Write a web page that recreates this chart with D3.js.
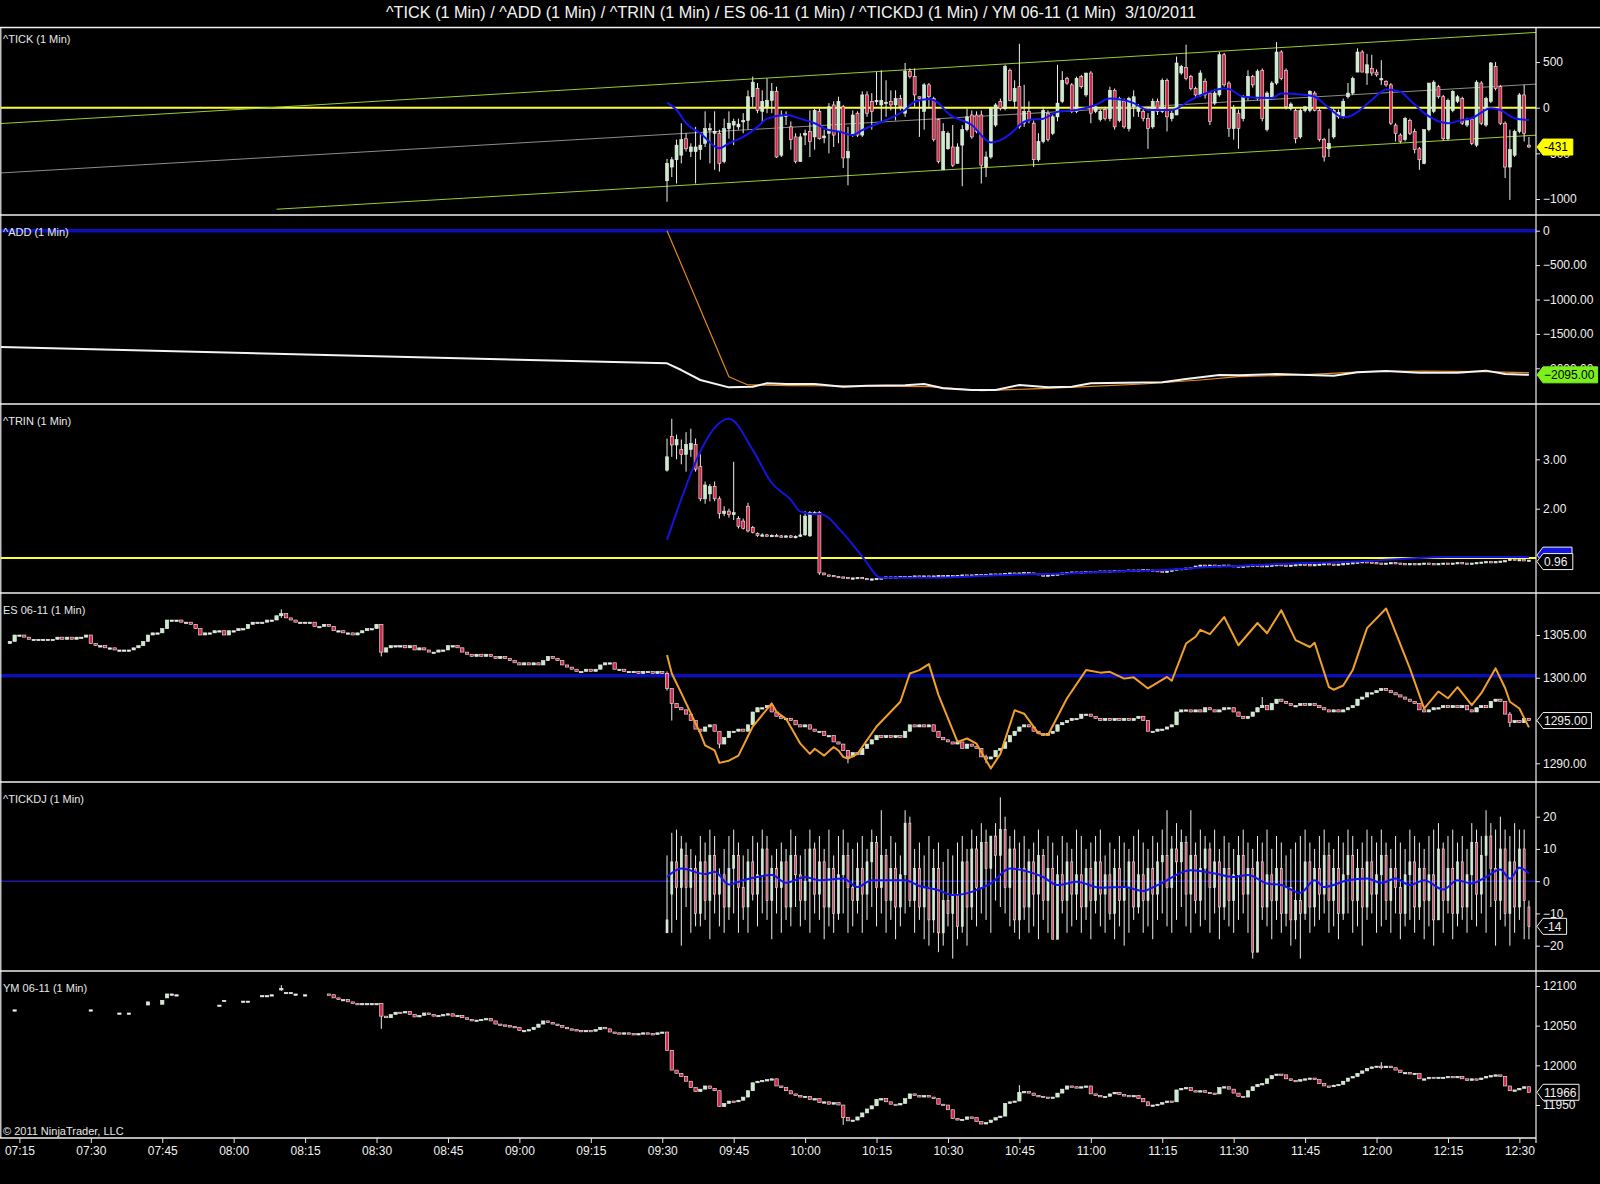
<!DOCTYPE html>
<html>
<head>
<meta charset="utf-8">
<script src="https://cdn.jsdelivr.net/npm/d3@7"></script>
<style>
  body { margin: 0; background: #000; }
  svg { display: block; font-family: "Liberation Sans Narrow", "Arial Narrow", "Liberation Sans", Arial, sans-serif; }
</style>
</head>
<body>
<svg id="chart"></svg>
<script>
// ---- data ----
const chartTitle = "^TICK (1 Min) / ^ADD (1 Min) / ^TRIN (1 Min) / ES 06-11 (1 Min) / ^TICKDJ (1 Min) / YM 06-11 (1 Min)  3/10/2011";
const panelNames = ["^TICK (1 Min)", "^ADD (1 Min)", "^TRIN (1 Min)", "ES 06-11 (1 Min)", "^TICKDJ (1 Min)", "YM 06-11 (1 Min)"];
const timeTicks = ["07:15","07:30","07:45","08:00","08:15","08:30","08:45","09:00","09:15","09:30","09:45","10:00","10:15","10:30","10:45","11:00","11:15","11:30","11:45","12:00","12:15","12:30"];

// right axis tick values
const tickTicks = [500, 0, -500, -1000];
const addTicks = [0, -500, -1000, -1500, -2000];
const trinTicks = [3, 2];
const esTicks = [1305, 1300, 1295, 1290];
const tickdjTicks = [20, 10, 0, -10, -20];
const ymTicks = [12100, 12050, 12000, 11950];

// ^TICK 1-min bars from 09:31 [open, high, low, close]
const tickStart = "09:31";
const tickBars = [
  [-800,-560,-1030,-610],[-650,-540,-760,-570],[-570,-350,-830,-410],[-520,-170,-610,-350],[-340,-280,-480,-450],
  [-480,-390,-540,-430],[-480,-210,-830,-430],[-460,-280,-570,-410],[-390,-40,-430,-230],[-240,-170,-610,-230],
  [-280,-40,-680,-260],[-280,-240,-700,-610],[-590,-120,-610,-230],[-230,-40,-340,-170],[-190,-120,-410,-150],
  [-210,-120,-240,-180],[-150,-60,-280,-140],[-140,190,-240,120],[120,340,10,280],[210,270,-60,-30],
  [-40,190,-170,70],[10,320,-60,80],[80,270,-60,180],[180,230,-550,-540],[-520,-30,-540,-80],
  [-90,-40,-190,-80],[-210,-150,-460,-350],[-320,-280,-610,-590],[-590,-280,-590,-320],[-300,-240,-410,-280],
  [-260,-30,-540,-370],[-320,-10,-460,-30],[-40,-10,-350,-340],[-330,-240,-390,-310],[-280,50,-500,10],
  [30,70,-430,-300],[-260,120,-390,70],[10,30,-660,-550],[-550,-210,-850,-480],[-300,-30,-320,-80],
  [-60,-40,-320,-300],[-300,180,-320,140],[140,180,-100,-60],[70,160,-240,-40],[70,390,30,80],
  [30,410,-150,80],[50,300,-100,60],[70,190,-30,30],[30,190,-140,100],[100,140,-30,10],
  [-60,490,-100,400],[400,430,320,340],[340,430,10,140],[120,120,-320,100],[-40,270,-240,250],
  [250,270,-10,120],[100,120,-370,-350],[-130,-120,-610,-590],[-680,-170,-680,-260],[-450,-260,-460,-280],
  [-430,-190,-650,-630],[-610,-390,-610,-430],[-410,-190,-860,-240],[-240,-10,-260,-100],[-80,-30,-340,-320],
  [-80,-40,-280,-260],[-80,-30,-830,-630],[-650,-480,-760,-540],[-540,10,-560,-10],[-190,50,-210,30],
  [70,100,-30,-10],[-10,470,-30,450],[410,430,70,80],[70,300,-10,210],[230,700,-230,-210],
  [-170,250,-210,-40],[-40,70,-170,-140],[-170,-140,-650,-570],[-570,-280,-590,-370],[-370,10,-390,-30],
  [-60,-30,-370,-350],[-280,-80,-300,-100],[-100,470,-150,50],[70,400,50,300],[320,340,250,270],
  [250,270,-60,-40],[-40,340,-60,320],[340,360,210,230],[140,380,120,380],[380,400,-170,-60],
  [-40,30,-60,10],[-130,-20,-150,-40],[-20,10,-140,-120],[-120,230,-150,190],[190,210,-240,-210],
  [-140,120,-160,100],[70,100,-230,-210],[-230,120,-260,100],[10,190,-100,120],[-40,40,-100,10],
  [-40,0,-150,-120],[-120,-60,-450,-230],[-210,100,-230,70],[70,100,-80,-40],[-40,320,-60,300],
  [300,320,-260,-100],[-120,-30,-150,-60],[-80,560,-80,490],[380,470,360,450],[440,690,300,320],
  [340,360,190,210],[210,230,120,140],[140,410,120,380],[290,320,100,140],[160,180,-190,-150],
  [50,200,30,160],[140,610,120,580],[580,600,230,250],[270,290,-320,-230],[-230,30,-350,-10],
  [-60,-20,-450,-230],[-120,140,-150,120],[120,410,80,340],[340,360,220,250],[100,420,80,400],
  [410,430,-150,-120],[-240,180,-260,160],[120,290,100,270],[270,720,250,610],[610,630,300,320],
  [410,430,-20,10],[-10,60,-30,40],[-30,-10,-390,-340],[-320,-10,-340,-30],[-30,20,-50,10],
  [-30,190,-50,180],[160,180,-40,-30],[-30,-10,-370,-350],[-350,-330,-590,-540],[-450,-230,-540,-390],
  [-320,-10,-340,-30],[-100,-20,-120,-50],[-100,100,-120,70],[120,270,100,160],[160,340,140,320],
  [390,650,390,610],[610,630,390,390],[380,590,250,470],[430,580,350,380],[390,420,340,360],
  [310,520,250,320],[290,300,230,250],[250,270,-190,-170],[-190,-170,-370,-280],[-300,-280,-390,-370],
  [-350,-100,-370,-120],[-140,-120,-300,-280],[-260,-230,-500,-460],[-450,-430,-680,-570],[-610,-240,-620,-240],
  [-240,270,-260,270],[-40,300,-60,280],[230,250,100,120],[120,140,-360,-340],[-340,100,-360,80],
  [-30,190,-50,180],[70,140,50,120],[100,120,-190,-170],[-190,-110,-210,-130],[-130,-110,-410,-390],
  [-410,300,-430,280],[270,290,-190,-170],[-190,120,-210,100],[70,500,50,490],[450,500,190,210],
  [230,250,-190,-170],[-170,-150,-770,-650],[-650,-240,-1010,-460],[-520,-240,-540,-260],[-260,160,-280,140],
  [140,250,-370,-280],[-410,-320,-440,-430]
];
// average of ^TICK (blue)
const tickAvg = [
  ["09:31",55],["09:33",-25],["09:35",-170],["09:38",-280],["09:42",-445],["09:44",-390],["09:47",-320],["09:50",-210],
  ["09:52",-120],["09:56",-80],["09:59",-120],["10:02",-170],["10:05",-245],["10:07",-260],["10:10",-300],["10:12",-245],
  ["10:17",-135],["10:21",-25],["10:23",65],["10:26",95],["10:28",50],["10:30",-60],["10:35",-190],["10:39",-380],
  ["10:41",-355],["10:44",-245],["10:45",-190],["10:47",-135],["10:50",-120],["10:53",-45],["10:57",-25],["11:01",30],
  ["11:04",100],["11:09",50],["11:12",-25],["11:17",-25],["11:21",85],["11:24",155],["11:28",210],["11:29",205],
  ["11:32",120],["11:38",105],["11:40",155],["11:45",140],["11:47",120],["11:50",-5],["11:53",-105],["11:55",-80],
  ["11:59",85],["12:02",200],["12:05",175],["12:07",85],["12:10",-60],["12:15",-170],["12:18",-135],["12:20",-115],
  ["12:24",-5],["12:26",-25],["12:29",-115],["12:32",-135]
];
// regression channel on ^TICK [time, value]
const tickChanUpper = [["07:11",-174],["12:34",826]];
const tickChanMid = [["07:11",-715],["12:34",260]];
const tickChanLower = [["08:09",-1112],["12:34",-299]];
const tickZero = 0;

// ^ADD line (white) and its average (orange)
const addLine = [
  ["07:11",-1690],["09:31",-1928],["09:34",-2025],["09:38",-2170],["09:44",-2277],["09:49",-2267],["09:52",-2218],
  ["09:56",-2228],["10:02",-2228],["10:08",-2267],["10:13",-2252],["10:21",-2247],["10:25",-2228],["10:29",-2291],
  ["10:35",-2315],["10:40",-2315],["10:45",-2242],["10:51",-2277],["10:56",-2267],["11:00",-2218],["11:07",-2209],
  ["11:15",-2204],["11:20",-2156],["11:27",-2097],["11:31",-2102],["11:39",-2083],["11:44",-2093],["11:51",-2107],
  ["11:56",-2059],["12:02",-2039],["12:09",-2064],["12:17",-2064],["12:23",-2034],["12:27",-2083],["12:32",-2095]
];
const addAvg = [
  ["09:31",0],["09:44",-2122],["09:48",-2242],["09:57",-2252],["10:10",-2257],["10:26",-2267],["10:37",-2325],
  ["10:48",-2300],["10:59",-2267],["11:11",-2228],["11:23",-2170],["11:31",-2122],["11:44",-2097],["11:58",-2049],
  ["12:10",-2039],["12:22",-2049],["12:32",-2064]
];
const addZero = 0;

// ^TRIN bars: first 33 minutes as [o,h,l,c], then closes only
const trinStart = "09:31";
const trinBars = [
  [2.78,3.42,2.75,3.05],[3.46,3.82,3.05,3.29],[3.29,3.50,3.00,3.40],[3.20,3.40,2.90,3.10],[3.10,3.55,2.75,3.30],
  [3.20,3.62,3.05,3.32],[3.30,3.42,2.75,2.80],[2.85,3.10,2.15,2.20],[2.20,2.55,2.10,2.48],[2.30,2.50,2.15,2.45],
  [2.45,2.55,2.15,2.20],[2.20,2.25,1.80,1.90],[1.90,2.05,1.85,1.95],[1.95,2.00,1.82,1.88],[1.88,2.95,1.77,1.92],
  [1.80,1.85,1.60,1.64],[1.75,1.80,1.58,1.60],[2.05,2.12,1.52,1.55],[1.62,1.65,1.50,1.52],[1.50,1.52,1.43,1.46],
  [1.46,1.50,1.44,1.47],[1.47,1.49,1.44,1.45],[1.45,1.48,1.43,1.46],[1.46,1.49,1.44,1.45],[1.45,1.47,1.42,1.44],
  [1.44,1.46,1.42,1.45],[1.45,1.47,1.41,1.43],[1.43,1.46,1.40,1.44],[1.44,1.88,1.43,1.47],[1.47,1.95,1.45,1.85],
  [1.45,1.95,1.43,1.92],[1.92,1.95,1.88,1.90],[1.92,1.95,0.66,0.70]
];
const trinLateStart = "10:04";
const trinCloses = [
  0.66,0.65,0.63,0.62,0.61,0.60,0.60,0.61,0.59,0.58, 0.58,0.59,0.60,0.62,0.61,0.62,0.63,0.62,0.63,0.64,
  0.63,0.64,0.63,0.64,0.65,0.64,0.65,0.64,0.65,0.66, 0.65,0.66,0.67,0.66,0.67,0.68,0.67,0.68,0.69,0.70,
  0.69,0.70,0.71,0.70,0.69,0.66,0.65,0.66,0.67,0.68, 0.70,0.71,0.72,0.71,0.72,0.73,0.72,0.73,0.74,0.73,
  0.74,0.75,0.74,0.75,0.76,0.75,0.76,0.77,0.76,0.75, 0.74,0.73,0.74,0.76,0.78,0.79,0.80,0.81,0.84,0.86,
  0.85,0.86,0.84,0.85,0.86,0.85,0.84,0.83,0.84,0.85, 0.86,0.85,0.84,0.85,0.86,0.87,0.86,0.85,0.86,0.87,
  0.88,0.87,0.86,0.87,0.88,0.89,0.88,0.87,0.88,0.89, 0.90,0.91,0.92,0.93,0.92,0.91,0.90,0.89,0.90,0.91,
  0.90,0.89,0.88,0.89,0.88,0.89,0.90,0.89,0.88,0.89, 0.90,0.89,0.90,0.91,0.90,0.89,0.90,0.91,0.92,0.93,
  0.92,0.93,0.94,0.95,0.98,0.96,0.97,0.95,0.96
];
const trinAvg = [
  ["09:31",1.37],["09:44",3.82],["09:49",3.19],["09:53",2.52],["09:57",2.18],["09:59",1.94],["10:02",1.89],["10:03",1.90],
  ["10:08",1.50],["10:12",1.03],["10:16",0.60],["10:25",0.60],["10:35",0.63],["10:45",0.67],["10:55",0.69],["11:05",0.73],
  ["11:15",0.76],["11:25",0.82],["11:35",0.86],["11:45",0.90],["11:55",0.93],["12:05",0.98],["12:15",1.02],["12:25",1.02],["12:32",1.02]
];
const trinLevel = 1.0;

// ES 06-11 closes, one per minute from 07:13 (open = previous close)
const esStart = "07:13";
const esFirstOpen = 1304.0;
const esCloses = [
  1304.25,1305.0,1305.0,1304.75,1304.5,1304.5,1304.5,1304.5,1304.5,1304.5,
  1304.75,1304.5,1304.75,1304.5,1304.75,1304.75,1305.0,1304.0,1303.75,1303.75,
  1303.5,1303.5,1303.25,1303.25,1303.25,1303.25,1303.5,1303.75,1304.25,1305.0,
  1305.25,1305.25,1305.75,1306.75,1306.75,1306.75,1306.5,1306.5,1306.25,1305.75,
  1305.0,1305.25,1305.25,1305.5,1305.5,1305.0,1305.5,1305.5,1305.75,1305.75,
  1306.25,1306.5,1306.5,1306.5,1306.75,1306.75,1307.25,1307.5,1307.0,1306.75,
  1306.5,1306.5,1306.5,1306.5,1306.0,1306.0,1306.25,1306.0,1305.5,1305.5,
  1305.25,1305.25,1305.0,1305.25,1305.5,1305.75,1305.75,1306.25,1303.0,1303.5,
  1303.75,1303.75,1303.75,1303.5,1303.75,1303.25,1303.5,1303.25,1303.0,1303.0,
  1303.25,1303.25,1303.75,1303.75,1303.5,1303.0,1302.75,1302.5,1302.75,1302.5,
  1302.75,1302.5,1302.25,1302.5,1302.25,1302.0,1301.75,1301.5,1301.75,1301.5,
  1301.75,1301.5,1302.0,1302.5,1302.25,1302.0,1301.5,1301.25,1301.0,1300.75,
  1300.75,1301.0,1300.75,1301.0,1301.5,1301.75,1301.75,1301.0,1301.0,1300.75,
  1300.75,1300.75,1300.5,1300.75,1300.75,1300.5,1300.75,1300.5,
  1298.75,1297.0,1296.5,1296.25,1295.75,1295.0,1294.0,1293.75,1294.25,1294.5,
  1293.75,1292.25,1293.0,1293.75,1293.75,1294.0,1293.75,1294.5,1296.0,1296.5,
  1296.5,1296.75,1296.0,1295.5,1295.25,1295.25,1295.0,1294.5,1294.25,1294.5,
  1294.0,1293.75,1293.75,1293.25,1293.25,1292.5,1292.25,1291.5,1290.75,1291.25,
  1291.0,1291.75,1292.25,1292.75,1293.25,1293.0,1293.25,1293.0,1293.25,1293.0,
  1293.75,1294.5,1294.25,1294.5,1294.25,1294.5,1293.75,1293.0,1292.75,1292.5,
  1292.25,1292.5,1291.75,1292.25,1292.0,1291.75,1290.75,1290.5,1290.75,1291.5,
  1291.75,1292.5,1293.25,1293.75,1294.25,1294.5,1294.25,1293.75,1293.5,1293.25,
  1293.5,1293.75,1294.5,1294.75,1295.0,1295.25,1295.25,1295.75,1295.75,1295.5,
  1295.25,1295.0,1295.25,1295.0,1295.25,1295.0,1295.25,1295.0,1295.25,1295.5,
  1295.0,1293.75,1293.75,1294.0,1294.0,1294.25,1294.5,1296.0,1296.25,1296.25,
  1296.0,1296.25,1296.0,1296.5,1296.25,1296.0,1296.25,1296.5,1296.5,1296.0,
  1295.5,1295.25,1295.5,1296.0,1296.5,1296.75,1296.25,1297.0,1297.5,1297.25,
  1297.0,1296.75,1296.75,1297.0,1296.75,1297.0,1296.75,1296.5,1296.25,1296.0,
  1296.25,1296.0,1296.25,1296.5,1296.75,1297.5,1297.75,1298.25,1298.25,1298.5,
  1298.75,1298.5,1298.25,1298.0,1297.75,1297.5,1297.25,1297.0,1296.25,1296.0,
  1296.25,1296.5,1296.5,1296.75,1296.5,1296.75,1296.5,1296.75,1296.25,1296.0,
  1296.5,1296.75,1296.5,1297.25,1297.5,1297.25,1295.75,1294.75,1295.0,1294.75,
  1295.25,1295.0
];
// visible wicks [time, high, low]
const esWicks = [["08:10",1308.0,1307.0],["08:31",1306.25,1302.5],["09:31",1300.75,1298.5],["09:32",1298.75,1295.0],
  ["09:42",1293.75,1291.75],["10:09",1291.5,1290.0],["10:38",1291.0,1290.0],["11:36",1297.75,1296.75],["12:28",1296.0,1294.25]];
const esLevel = 1300.25;
// orange line on the ES panel
const esOrange = [
  ["09:31",1302.66],["09:32",1300.5],["09:34",1298.2],["09:38",1293.5],["09:39",1292.1],["09:40",1291.8],["09:41",1291.5],
  ["09:42",1290.05],["09:44",1290.3],["09:46",1290.9],["09:49",1294.3],["09:53",1297.0],["09:54",1296.0],["09:56",1295.2],
  ["09:59",1292.3],["10:01",1291.1],["10:02",1291.7],["10:04",1290.9],["10:06",1291.9],["10:07",1291.5],["10:08",1290.75],
  ["10:09",1290.55],["10:11",1291.1],["10:15",1294.3],["10:20",1297.2],["10:22",1300.5],["10:24",1300.9],["10:26",1301.6],
  ["10:28",1298.0],["10:32",1292.5],["10:34",1292.9],["10:36",1292.3],["10:39",1289.4],["10:41",1291.1],["10:44",1296.2],
  ["10:46",1295.8],["10:49",1293.5],["10:51",1293.3],["10:55",1297.6],["10:59",1300.9],["11:02",1300.6],["11:04",1300.7],
  ["11:07",1299.9],["11:09",1300.05],["11:12",1298.75],["11:16",1300.1],["11:17",1299.65],["11:20",1304.0],["11:22",1304.8],
  ["11:23",1305.6],["11:25",1305.1],["11:28",1307.1],["11:31",1303.8],["11:35",1306.4],["11:37",1305.2],["11:40",1307.9],
  ["11:43",1304.4],["11:46",1303.6],["11:47",1304.1],["11:50",1298.9],["11:51",1298.6],["11:53",1299.1],["11:55",1300.9],
  ["11:58",1305.8],["12:02",1308.1],["12:07",1301.1],["12:10",1296.4],["12:13",1298.4],["12:15",1297.6],["12:17",1298.9],
  ["12:20",1296.8],["12:22",1298.2],["12:25",1301.1],["12:27",1298.8],["12:28",1297.2],["12:30",1296.4],["12:32",1294.2]
];

// ^TICKDJ bars from 09:31 [o,h,l,c]
const tickdjStart = "09:31";
const tickdjBars = [
  [-16,8,-16,-12],[-4,15,-16,6],[6,16,-12,-2],[-2,14,-20,10],[8,12,-8,-2],[-2,10,-16,4],[4,8,-14,-10],[-10,14,-14,6],[6,12,-12,-6],[-6,16,-18,8],
  [8,14,-10,-4],[-4,4,-14,2],[2,10,-16,-8],[-8,14,-12,4],[4,16,-10,8],[8,12,-16,-2],[-2,8,-12,-8],[-8,10,-16,6],[6,14,-6,-4],[-4,12,-14,2],
  [2,16,-10,10],[10,14,-12,-6],[-6,8,-18,4],[4,10,-10,-2],[-2,12,-16,6],[6,10,-12,-8],[-8,16,-14,8],[8,14,-8,2],[2,8,-14,-6],[-6,10,-12,0],
  [0,16,-16,10],[10,12,-10,-4],[-4,14,-12,6],[6,10,-18,-8],[-8,16,-14,4],[4,8,-16,-10],[-10,14,-12,2],[2,16,-10,8],[8,12,-16,-2],[-2,10,-14,-6],
  [-6,12,-10,4],[4,14,-16,-4],[-4,10,-12,6],[6,16,-8,12],[12,14,-14,-2],[-2,22,-10,8],[8,10,-16,-6],[-6,14,-12,4],[4,12,-18,-8],[-8,8,-14,2],
  [2,22,-10,18],[18,20,-8,-6],[-6,10,-16,4],[4,12,-12,-8],[-8,8,-18,-2],[-2,14,-20,-12],[-12,10,-16,4],[4,12,-22,-16],[-16,6,-20,-6],[-6,10,-14,-10],
  [-10,8,-24,-4],[-4,12,-18,-14],[-14,14,-16,6],[6,10,-20,-8],[-8,16,-12,10],[10,14,-14,-2],[-2,18,-10,12],[12,16,-12,4],[4,14,-16,14],[14,18,-6,8],
  [8,26,-8,16],[16,20,-10,-2],[-2,14,-14,10],[10,16,-16,-12],[-12,12,-18,4],[4,14,-12,-8],[-8,10,-16,6],[6,12,-14,-4],[-4,16,-18,8],[8,10,-12,-6],
  [-6,14,-16,4],[4,12,-18,-18],[-18,8,-12,2],[2,14,-10,-6],[-6,12,-16,6],[6,10,-14,-4],[-4,16,-12,2],[2,14,-16,-8],[-8,10,-12,4],[4,12,-18,-6],
  [-6,14,-10,6],[6,16,-14,-4],[-4,8,-16,2],[2,12,-12,-10],[-10,10,-18,4],[4,14,-14,-6],[-6,12,-20,-2],[-2,10,-16,6],[6,14,-12,-8],[-8,16,-10,2],
  [2,12,-16,-6],[-6,10,-14,4],[4,14,-18,-4],[-4,12,-12,6],[6,16,-10,8],[8,22,-14,-2],[-2,14,-16,10],[10,18,-12,6],[6,16,-8,12],[12,14,-14,-4],
  [-4,22,-16,8],[8,12,-10,-6],[-6,16,-14,4],[4,14,-12,10],[10,12,-16,-2],[-2,16,-10,6],[6,10,-18,-8],[-8,14,-12,4],[4,12,-14,-6],[-6,10,-16,2],
  [2,14,-12,8],[8,16,-10,-4],[-4,12,-16,4],[4,10,-24,-22],[-22,14,-22,6],[6,12,-12,-8],[-8,16,-14,2],[2,10,-18,-6],[-6,14,-12,4],[4,12,-16,-10],
  [-10,8,-14,-2],[-2,10,-20,-12],[-12,12,-18,-6],[-6,14,-24,-10],[-10,16,-12,6],[6,12,-16,-8],[-8,10,-14,4],[4,14,-12,-4],[-4,16,-10,8],[8,12,-16,-6],
  [-6,10,-14,4],[4,14,-18,-10],[-10,12,-12,2],[2,16,-10,8],[8,14,-16,-6],[-6,10,-14,4],[4,12,-20,-8],[-8,16,-12,6],[6,14,-10,-4],[-4,12,-16,2],
  [2,16,-14,8],[8,12,-12,-6],[-6,10,-16,4],[4,14,-10,-2],[-2,12,-18,-10],[-10,10,-14,2],[2,16,-12,6],[6,14,-16,-8],[-8,12,-12,4],[4,10,-18,-6],
  [-6,14,-14,2],[2,16,-20,-12],[-12,18,-12,10],[10,12,-16,-6],[-6,14,-10,4],[4,16,-18,-10],[-10,12,-14,6],[6,14,-12,-8],[-8,10,-16,2],[2,18,-12,12],
  [12,16,-14,-4],[-4,14,-10,8],[8,22,-16,14],[14,18,-8,4],[4,16,-20,-6],[-6,20,-12,10],[10,16,-14,-10],[-10,14,-20,6],[6,18,-16,-8],[-8,16,-12,10],
  [10,16,-18,-6],[-8,-6,-18,-14]
];
const tickdjAvg = [
  ["09:31",1.3],["09:34",3.9],["09:39",2.2],["09:41",2.9],["09:44",-1],["09:47",0.3],["09:53",1.9],["09:56",-0.5],["10:00",1.3],
  ["10:03",0.3],["10:08",0.8],["10:11",-1.8],["10:14",0.3],["10:21",0.3],["10:24",-1.5],["10:28",-2.8],["10:31",-4.3],["10:35",-3.3],
  ["10:39",-0.7],["10:43",3.9],["10:47",2.9],["10:50",1.3],["10:53",-1.2],["10:57",-0.2],["11:02",-2],["11:07",-1.8],["11:11",-3],
  ["11:14",-1.2],["11:21",3.4],["11:26",2.4],["11:30",1.3],["11:33",1.9],["11:37",-0.7],["11:40",-1.2],["11:44",-3.6],["11:47",0.3],
  ["11:49",-1.8],["11:54",0.3],["11:58",0.8],["12:01",-0.5],["12:04",0.8],["12:07",-1.2],["12:10",0.3],["12:14",-2.6],["12:17",0.3],
  ["12:20",-0.7],["12:23",1.3],["12:26",3.6],["12:28",0.8],["12:30",4.2],["12:32",2.4]
];
const tickdjZero = 0;

// YM 06-11: sparse early prints [time, open, close], then one close per minute from 08:20
const ymEarly = [
  ["07:14",12070,12070],["07:30",12070,12070],["07:36",12066,12066],["07:38",12066,12066],["07:42",12076,12080],
  ["07:45",12077,12082],["07:46",12085,12090],["07:47",12090,12090],["07:48",12089,12089],["07:57",12076,12076],
  ["07:58",12082,12082],["08:02",12081,12081],["08:03",12081,12081],["08:06",12088,12088],["08:07",12088,12088],
  ["08:08",12089,12089],["08:10",12095,12097],["08:11",12092,12092],["08:12",12092,12092],["08:13",12090,12090],["08:15",12089,12089]
];
const ymStart = "08:20";
const ymFirstOpen = 12090;
const ymCloses = [
  12089,12085,12083,12083,12080,12078,12077,12078,12078,12078,12078,
  12062,12060,12064,12067,12066,12068,12064,12061,12063,12066,
  12064,12062,12063,12064,12065,12062,12063,12060,12058,12056,
  12057,12058,12059,12056,12052,12051,12050,12049,12048,12044,12044,12045,12048,12052,12056,12054,
  12052,12050,12048,12046,12045,12044,12043,12044,12043,12045,12048,12046,
  12042,12041,12040,12041,12040,12039,12040,12041,12040,12039,12041,12042,
  12019,11994,11990,11986,11980,11972,11967,11970,11974,11971,11968,11948,11952,11955,11954,11956,11960,11968,
  11978,11980,11981,11982,11983,11974,11972,11968,11964,11962,
  11960,11961,11957,11958,11953,11954,11951,11953,11950,11934,
  11930,11931,11935,11940,11945,11949,11957,11958,11954,11951,
  11950,11952,11958,11964,11962,11960,11962,11960,11958,11951,
  11950,11944,11933,11931,11932,11935,11934,11929,11926,11928,
  11931,11934,11936,11952,11954,11955,11966,11967,11965,11962,
  11961,11960,11959,11960,11965,11970,11974,11973,11972,11973,
  11974,11964,11962,11961,11961,11964,11966,11963,11962,11961,
  11962,11958,11954,11949,11950,11951,11953,11955,11954,11969,
  11971,11972,11968,11967,11968,11966,11965,11964,11972,11973,
  11970,11965,11961,11960,11968,11973,11976,11977,11983,11987,
  11989,11988,11983,11981,11980,11982,11983,11984,11982,11977,
  11974,11973,11975,11976,11980,11984,11986,11990,11993,11996,
  11998,11999,11997,11999,11997,11994,11991,11991,11989,11990,
  11983,11983,11985,11984,11985,11985,11986,11985,11986,11983,
  11981,11983,11982,11984,11986,11987,11988,11986,11974,11968,
  11969,11971,11973,11966
];
const ymWicks = [["08:10",12101,12094],["08:31",12078,12046],["10:08",11950,11925],["10:45",11975,11955],["12:01",12004,11995]];

// last-value markers
const lastTick = -431, lastAdd = -2095, lastTrin = 0.96, lastTrinAvg = 1.02, lastEs = 1295, lastTickdj = -14, lastYm = 11966;

// ---- layout ----
const W = 1600, H = 1184, axisX = 1536;
const panelTops = [27.5, 215, 404, 593, 782, 971];
const labelOffsets = [15, 21, 21, 21, 21, 21];
const chartBottom = 1138;

const svg = d3.select("#chart").attr("width", W).attr("height", H);
svg.append("rect").attr("width", W).attr("height", H).attr("fill", "#000");

const at = d3.timeParse("%H:%M");
const fmtHM = d3.timeFormat("%H:%M");
const x = d3.scaleTime().domain([at("07:15"), at("12:30")]).range([19.4, 1519.4]);

// y scales from two label positions each
const tickY = d3.scaleLinear().domain([0, -1000]).range([107.7, 199]);
const addY = d3.scaleLinear().domain([0, -2000]).range([230.7, 368.3]);
const trinY = d3.scaleLinear().domain([1, 3]).range([558.1, 459.3]);
const esY = d3.scaleLinear().domain([1290, 1305]).range([763.3, 635]);
const tickdjY = d3.scaleLinear().domain([-20, 20]).range([945.7, 816.7]);
const ymY = d3.scaleLinear().domain([11950, 12100]).range([1105, 986]);

// clip each panel to its plotting box
const defs = svg.append("defs");
const panels = panelTops.map((top, i) => {
  const bottom = i < panelTops.length - 1 ? panelTops[i + 1] : chartBottom;
  defs.append("clipPath").attr("id", "clip" + i)
    .append("rect").attr("x", 1).attr("y", top + 1).attr("width", axisX - 1).attr("height", bottom - top - 1);
  return svg.append("g").attr("clip-path", `url(#clip${i})`);
});

// ---- helpers ----
function ohlcBars(start, rows) {
  return rows.map((r, i) => ({ t: d3.timeMinute.offset(at(start), i), o: r[0], h: r[1], l: r[2], c: r[3] }));
}
function closeBars(start, firstOpen, closes, wicks) {
  const wk = new Map((wicks || []).map(w => [w[0], w]));
  let prev = firstOpen;
  return closes.map((c, i) => {
    const t = d3.timeMinute.offset(at(start), i);
    const o = prev;
    prev = c;
    const w = wk.get(fmtHM(t));
    return {
      t, o, c,
      h: w ? Math.max(w[1], o, c) : Math.max(o, c),
      l: w ? Math.min(w[2], o, c) : Math.min(o, c)
    };
  });
}
function drawCandles(g, bars, y, bw, downColor) {
  const cg = g.append("g");
  cg.selectAll("line").data(bars).join("line")
    .attr("x1", d => x(d.t)).attr("x2", d => x(d.t))
    .attr("y1", d => y(d.h)).attr("y2", d => y(d.l))
    .attr("stroke", "#eeeeee").attr("stroke-width", 1);
  cg.selectAll("rect").data(bars).join("rect")
    .attr("x", d => x(d.t) - bw / 2).attr("width", bw)
    .attr("y", d => Math.min(y(d.o), y(d.c)))
    .attr("height", d => Math.max(1.4, Math.abs(y(d.o) - y(d.c))))
    .attr("fill", d => d.c > d.o ? "#c8eec8" : d.c < d.o ? (downColor || "#d42848") : "#eeeeee")
    .attr("stroke", "#eeeeee").attr("stroke-width", 0.6);
}
function drawLine(g, pts, y, color, width, curve) {
  g.append("path")
    .datum(pts)
    .attr("fill", "none").attr("stroke", color).attr("stroke-width", width)
    .attr("stroke-linejoin", "round")
    .attr("d", d3.line().x(d => x(at(d[0]))).y(d => y(d[1])).curve(curve || d3.curveLinear));
}
function hLine(g, y, v, color, width) {
  g.append("line").attr("x1", 0).attr("x2", axisX).attr("y1", y(v)).attr("y2", y(v))
    .attr("stroke", color).attr("stroke-width", width);
}
function rightAxis(y, vals, fmt) {
  const ax = svg.append("g").attr("transform", `translate(${axisX},0)`)
    .call(d3.axisRight(y).tickValues(vals).tickSize(4).tickPadding(3).tickFormat(fmt));
  ax.select(".domain").remove();
  ax.selectAll("line").attr("stroke", "#e8e8e8");
  ax.selectAll("text").attr("fill", "#f0f0f0").style("font-size", "12px").style("font-family", null);
}
function marker(yPos, text, fill, textColor, stroke, w) {
  w = w || text.length * 6.2 + 5;
  const g = svg.append("g");
  g.append("path")
    .attr("d", `M${axisX + 1},${yPos} L${axisX + 7},${yPos - 8} H${axisX + 7 + w} V${yPos + 8} H${axisX + 7} Z`)
    .attr("fill", fill).attr("stroke", stroke).attr("stroke-width", 1);
  if (text) {
    g.append("text").attr("x", axisX + 8).attr("y", yPos).attr("dy", "0.36em")
      .attr("fill", textColor).style("font-size", "12px").text(text);
  }
}

// ---- panel 1: ^TICK ----
hLine(panels[0], tickY, tickZero, "#ffff30", 2);
drawLine(panels[0], tickChanUpper, tickY, "#9acd32", 1);
drawLine(panels[0], tickChanLower, tickY, "#9acd32", 1);
drawLine(panels[0], tickChanMid, tickY, "#8c8c8c", 1);
drawCandles(panels[0], ohlcBars(tickStart, tickBars), tickY, 3);
drawLine(panels[0], tickAvg, tickY, "#1414f0", 2, d3.curveMonotoneX);

// ---- panel 2: ^ADD ----
hLine(panels[1], addY, addZero, "#0a10b8", 3.5);
drawLine(panels[1], addAvg, addY, "#e0891c", 1.2);
drawLine(panels[1], addLine, addY, "#f4f4f4", 2);

// ---- panel 3: ^TRIN ----
hLine(panels[2], trinY, trinLevel, "#ffff30", 2);
const trinAll = ohlcBars(trinStart, trinBars)
  .concat(closeBars(trinLateStart, trinBars[trinBars.length - 1][3], trinCloses));
drawCandles(panels[2], trinAll, trinY, 3);
drawLine(panels[2], trinAvg, trinY, "#1414e0", 2, d3.curveMonotoneX);

// ---- panel 4: ES ----
hLine(panels[3], esY, esLevel, "#0c10b4", 3.5);
drawCandles(panels[3], closeBars(esStart, esFirstOpen, esCloses, esWicks), esY, 3.4);
drawLine(panels[3], esOrange, esY, "#f0a02a", 2);

// ---- panel 5: ^TICKDJ ----
hLine(panels[4], tickdjY, tickdjZero, "#2828ff", 1);
drawCandles(panels[4], ohlcBars(tickdjStart, tickdjBars), tickdjY, 2, "#c85064");
drawLine(panels[4], tickdjAvg, tickdjY, "#1414f0", 2, d3.curveMonotoneX);

// ---- panel 6: YM ----
const ymAll = ymEarly.map(r => ({ t: at(r[0]), o: r[1], c: r[2], h: Math.max(r[1], r[2]), l: Math.min(r[1], r[2]) }))
  .concat(closeBars(ymStart, ymFirstOpen, ymCloses, ymWicks));
const ymWk = new Map(ymWicks.map(w => [w[0], w]));
ymAll.forEach(d => {
  const w = ymWk.get(fmtHM(d.t));
  if (w) { d.h = Math.max(d.h, w[1]); d.l = Math.min(d.l, w[2]); }
});
drawCandles(panels[5], ymAll, ymY, 3.4);

// ---- frame ----
panelTops.forEach(top => {
  svg.append("line").attr("x1", 0).attr("x2", W).attr("y1", top).attr("y2", top)
    .attr("stroke", "#f0f0f0").attr("stroke-width", 1.5);
});
svg.append("line").attr("x1", 0).attr("x2", axisX).attr("y1", chartBottom).attr("y2", chartBottom)
  .attr("stroke", "#f0f0f0").attr("stroke-width", 1.5);
svg.append("line").attr("x1", axisX).attr("x2", axisX).attr("y1", panelTops[0]).attr("y2", chartBottom + 5)
  .attr("stroke", "#f0f0f0").attr("stroke-width", 1.2);
svg.append("line").attr("x1", 0.8).attr("x2", 0.8).attr("y1", panelTops[0]).attr("y2", chartBottom)
  .attr("stroke", "#f0f0f0").attr("stroke-width", 1.2);

// ---- axes ----
rightAxis(tickY, tickTicks, d3.format("d"));
rightAxis(addY, addTicks, v => v === 0 ? "0" : d3.format(".2f")(v));
rightAxis(trinY, trinTicks, d3.format(".2f"));
rightAxis(esY, esTicks, d3.format(".2f"));
rightAxis(tickdjY, tickdjTicks, d3.format("d"));
rightAxis(ymY, ymTicks, d3.format("d"));

const xAxis = svg.append("g").attr("transform", `translate(0,${chartBottom})`)
  .call(d3.axisBottom(x).tickValues(timeTicks.map(at)).tickSize(5).tickFormat(fmtHM));
xAxis.select(".domain").remove();
xAxis.selectAll("line").attr("stroke", "#e8e8e8");
xAxis.selectAll("text").attr("fill", "#f0f0f0").style("font-size", "12px").style("font-family", null);

// ---- markers ----
marker(tickY(lastTick), String(lastTick), "#ffff00", "#000", "#ffff00");
marker(addY(lastAdd), d3.format(".2f")(lastAdd), "#7cf01c", "#000", "#7cf01c");
marker(trinY(lastTrinAvg) - 2, "", "#1414e0", "#f0f0f0", "#f0f0f0", 29);
marker(trinY(lastTrin) + 1.5, d3.format(".2f")(lastTrin), "#000", "#f0f0f0", "#f0f0f0");
marker(esY(lastEs), d3.format(".2f")(lastEs), "#000", "#f0f0f0", "#f0f0f0");
marker(tickdjY(lastTickdj), String(lastTickdj), "#000", "#f0f0f0", "#f0f0f0");
marker(ymY(lastYm), String(lastYm), "#000", "#f0f0f0", "#f0f0f0");

// ---- texts ----
svg.append("text").attr("x", 791).attr("y", 18).attr("text-anchor", "middle")
  .attr("fill", "#f4f4f4").style("font-size", "16px").style("white-space", "pre")
  .attr("textLength", 810).attr("lengthAdjust", "spacingAndGlyphs")
  .text(chartTitle);
panelNames.forEach((name, i) => {
  svg.append("text").attr("x", 3).attr("y", panelTops[i] + labelOffsets[i])
    .attr("fill", "#e8e8e8").style("font-size", "11px").text(name);
});
svg.append("text").attr("x", 3).attr("y", chartBottom - 3)
  .attr("fill", "#e8e8e8").style("font-size", "11px").text("\u00a9 2011 NinjaTrader, LLC");
</script>
</body>
</html>
